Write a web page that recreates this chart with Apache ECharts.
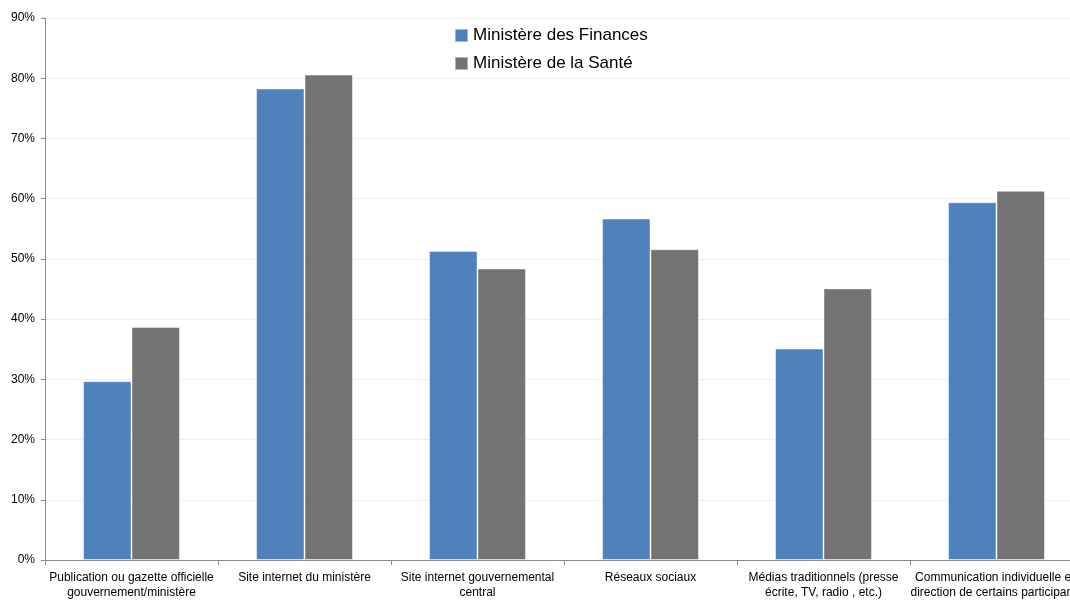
<!DOCTYPE html>
<html>
<head>
<meta charset="utf-8">
<script src="https://cdn.jsdelivr.net/npm/echarts@6/dist/echarts.min.js"></script>
<style>
  html, body { margin: 0; padding: 0; background: #ffffff; }
  #chart { width: 1070px; height: 600px; }
</style>
</head>
<body>
<div id="chart"></div>
<script>
// Canaux de communication utilisés (% des répondants)
const categories = [
  'Publication ou gazette officielle\ngouvernement/ministère',
  'Site internet du ministère',
  'Site internet gouvernemental\ncentral',
  'Réseaux sociaux',
  'Médias traditionnels (presse\nécrite, TV, radio , etc.)',
  'Communication individuelle en\ndirection de certains participants'
];
const seriesNames = ['Ministère des Finances', 'Ministère de la Santé'];
const finances = [29.7, 78.3, 51.3, 56.7, 35.1, 59.4];
const sante = [38.7, 80.6, 48.4, 51.6, 45.1, 61.3];
const yTicks = { min: 0, max: 90, interval: 10 };

const chart = echarts.init(document.getElementById('chart'), null, { renderer: 'canvas' });

const barStyle = (color) => ({
  color: color,
  borderColor: 'rgba(255,255,255,0.45)',
  borderWidth: 1
});

chart.setOption({
  animation: false,
  backgroundColor: '#ffffff',
  textStyle: { fontFamily: 'Liberation Sans, Arial, sans-serif' },
  // the plot runs past the right edge of the canvas
  grid: { left: 45, width: 1038, top: 18, bottom: 40, containLabel: false, outerBoundsMode: 'none' },
  legend: {
    orient: 'vertical',
    left: 449,
    top: 22,
    itemWidth: 13,
    itemHeight: 13,
    itemGap: 11,
    icon: 'rect',
    textStyle: { fontSize: 17, color: '#000000', fontFamily: 'Liberation Sans, Arial, sans-serif' },
    data: seriesNames
  },
  xAxis: {
    type: 'category',
    data: categories,
    axisLine: { lineStyle: { color: '#8c8c8c', width: 1 } },
    axisTick: { show: true, alignWithLabel: false, length: 5, lineStyle: { color: '#8c8c8c' } },
    axisLabel: {
      interval: 0,
      color: '#000000',
      fontSize: 12,
      lineHeight: 15,
      margin: 10
    },
    splitLine: { show: false }
  },
  yAxis: {
    type: 'value',
    min: yTicks.min,
    max: yTicks.max,
    interval: yTicks.interval,
    axisLine: { show: true, lineStyle: { color: '#8c8c8c', width: 1 } },
    axisTick: { show: true, length: 4, lineStyle: { color: '#8c8c8c' } },
    axisLabel: { formatter: '{value}%', color: '#000000', fontSize: 12, margin: 10 },
    splitLine: { show: true, lineStyle: { color: '#eeeeee', width: 1 } }
  },
  series: [
    {
      name: seriesNames[0],
      type: 'bar',
      data: finances,
      barGap: '0%',
      barCategoryGap: '44%',
      itemStyle: barStyle('#4f81bd')
    },
    {
      name: seriesNames[1],
      type: 'bar',
      data: sante,
      barGap: '0%',
      barCategoryGap: '44%',
      itemStyle: barStyle('#737373')
    }
  ]
});
</script>
</body>
</html>
